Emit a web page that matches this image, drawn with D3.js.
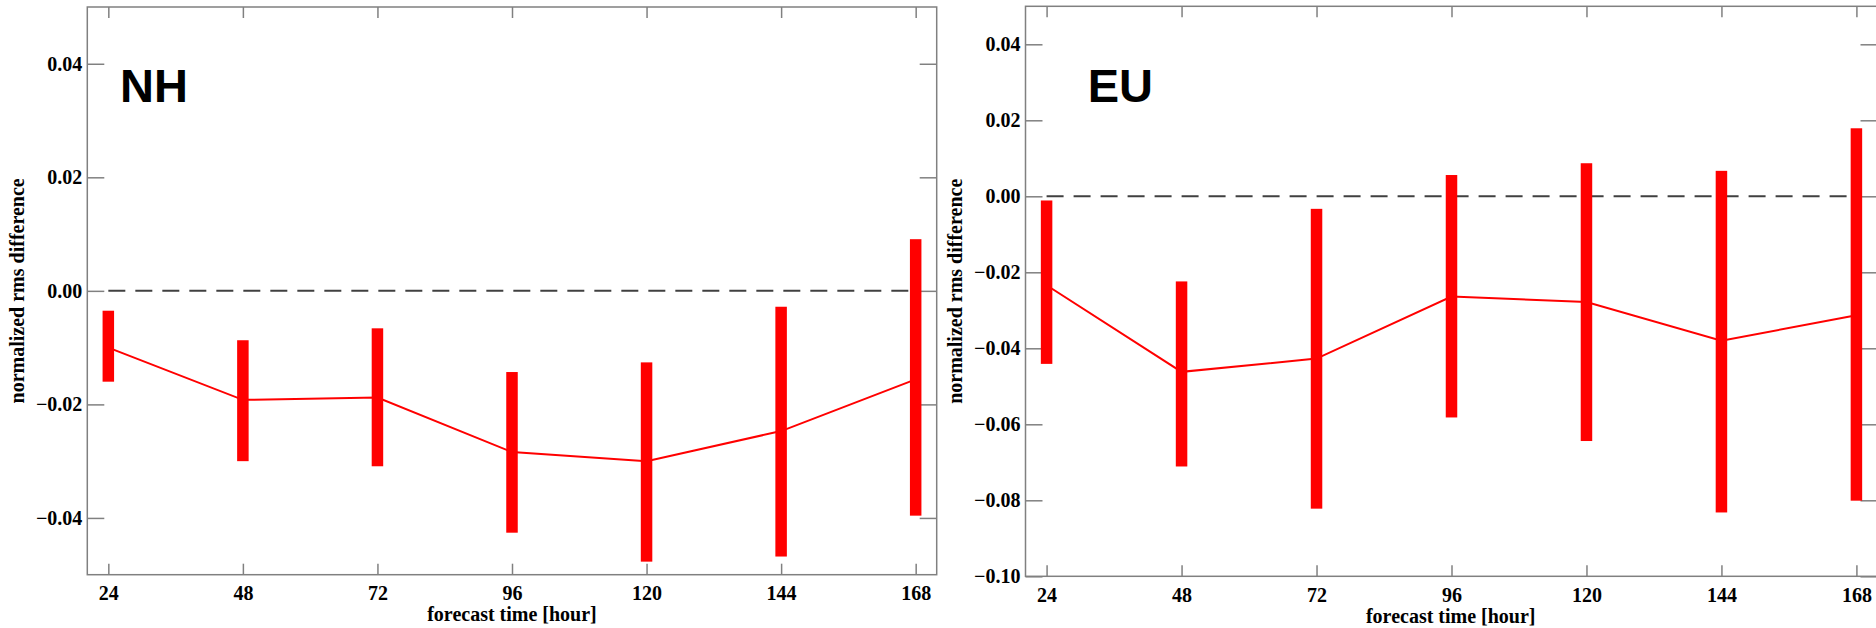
<!DOCTYPE html>
<html>
<head>
<meta charset="utf-8">
<script src="https://cdn.jsdelivr.net/npm/d3@7"></script>
<style>
  html, body { margin: 0; padding: 0; background: #fff; }
  svg { display: block; }
</style>
</head>
<body>
<svg id="chart" width="1876" height="628"></svg>
<script>
// ---- data ----
const hours = [24, 48, 72, 96, 120, 144, 168];

const nhMean = [-0.0100, -0.0192, -0.0188, -0.0284, -0.0300, -0.0247, -0.0156];
const nhLow  = [-0.0160, -0.0300, -0.0309, -0.0426, -0.0477, -0.0468, -0.0396];
const nhHigh = [-0.0035, -0.0087, -0.0066, -0.0143, -0.0126, -0.0028, 0.0091];

const euMean = [-0.0234, -0.0462, -0.0427, -0.0264, -0.0278, -0.0380, -0.0313];
const euLow  = [-0.0441, -0.0711, -0.0822, -0.0582, -0.0644, -0.0832, -0.0801];
const euHigh = [-0.0011, -0.0224, -0.0033, 0.0056, 0.0087, 0.0067, 0.0179];

const nhYTicks = [-0.04, -0.02, 0.00, 0.02, 0.04];
const euYTicks = [-0.10, -0.08, -0.06, -0.04, -0.02, 0.00, 0.02, 0.04];

const panelNames = ["NH", "EU"];
const yLabel = "normalized rms difference";
const xLabel = "forecast time [hour]";

// ---- layout ----
const svg = d3.select("#chart");
const serif = "'Liberation Serif', 'Times New Roman', serif";
const sans = "'Liberation Sans', Arial, Helvetica, sans-serif";

const panels = [
  { name: panelNames[0], mean: nhMean, low: nhLow, high: nhHigh, yTicks: nhYTicks,
    yDomain: [-0.05, 0.05], left: 87.3, right: 936.7, top: 7, bottom: 574.7, titleX: 120 },
  { name: panelNames[1], mean: euMean, low: euLow, high: euHigh, yTicks: euYTicks,
    yDomain: [-0.10, 0.05], left: 1025.5, right: 1877.5, top: 6.3, bottom: 576.3, titleX: 1087.7 }
];

const frameColor = "#808080";

panels.forEach(p => {
  const x = d3.scaleLinear().domain([20.25, 171.75]).range([p.left, p.right]);
  const y = d3.scaleLinear().domain(p.yDomain).range([p.bottom, p.top]);
  const g = svg.append("g");

  // zero dashed line
  g.append("line")
    .attr("x1", x(hours[0])).attr("x2", x(hours[hours.length - 1]))
    .attr("y1", y(0)).attr("y2", y(0))
    .attr("stroke", "#404040").attr("stroke-width", 2)
    .attr("stroke-dasharray", "17,10");

  // frame
  g.append("rect")
    .attr("x", p.left).attr("y", p.top)
    .attr("width", p.right - p.left).attr("height", p.bottom - p.top)
    .attr("fill", "none").attr("stroke", frameColor).attr("stroke-width", 1.5);

  // axes
  const styleAxis = sel => {
    sel.select(".domain").remove();
    sel.selectAll(".tick line").attr("stroke", frameColor).attr("stroke-width", 1.5);
    sel.selectAll(".tick text")
      .attr("fill", "#000")
      .style("font-family", serif).style("font-weight", "bold").style("font-size", "20px");
  };

  g.append("g").attr("transform", `translate(${p.left},0)`)
    .call(d3.axisLeft(y).tickValues(p.yTicks).tickSize(-17).tickPadding(5)
      .tickFormat(d3.format(".2f")))
    .call(styleAxis);

  g.append("g").attr("transform", `translate(${p.right},0)`)
    .call(d3.axisRight(y).tickValues(p.yTicks).tickSize(-17).tickFormat(""))
    .call(styleAxis);

  g.append("g").attr("transform", `translate(0,${p.bottom})`)
    .call(d3.axisBottom(x).tickValues(hours).tickSize(-11).tickPadding(11.5)
      .tickFormat(d3.format("d")))
    .call(styleAxis);

  g.append("g").attr("transform", `translate(0,${p.top})`)
    .call(d3.axisTop(x).tickValues(hours).tickSize(-11).tickFormat(""))
    .call(styleAxis);

  // bars (range)
  g.selectAll("rect.bar").data(hours).enter().append("rect")
    .attr("class", "bar")
    .attr("x", d => x(d) - 5.75)
    .attr("width", 11.5)
    .attr("y", (d, i) => y(p.high[i]))
    .attr("height", (d, i) => y(p.low[i]) - y(p.high[i]))
    .attr("fill", "#ff0000");

  // mean line
  const line = d3.line().x((d, i) => x(hours[i])).y(d => y(d));
  g.append("path").datum(p.mean)
    .attr("d", line)
    .attr("fill", "none").attr("stroke", "#ff0000").attr("stroke-width", 2);

  // titles
  g.append("text")
    .attr("x", p.titleX).attr("y", p.top + 95.3)
    .style("font-family", sans).style("font-weight", "bold").style("font-size", "47px")
    .attr("fill", "#000")
    .text(p.name);

  // axis labels
  g.append("text")
    .attr("x", (p.left + Math.min(p.right, 1876)) / 2 + (p.right > 1876 ? 0 : 0))
    .attr("y", p.bottom + 46.5)
    .attr("text-anchor", "middle")
    .style("font-family", serif).style("font-weight", "bold").style("font-size", "20px")
    .attr("fill", "#000")
    .text(xLabel);

  g.append("text")
    .attr("transform", `translate(${p.left - 63.5},${(p.top + p.bottom) / 2}) rotate(-90)`)
    .attr("text-anchor", "middle")
    .style("font-family", serif).style("font-weight", "bold").style("font-size", "20px")
    .attr("fill", "#000")
    .text(yLabel);
});
</script>
</body>
</html>
